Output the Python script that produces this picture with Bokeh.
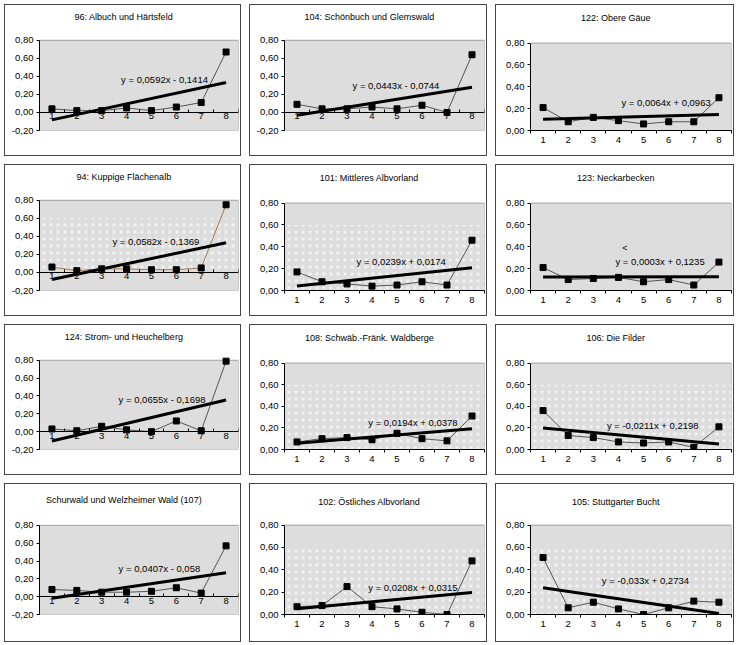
from bokeh.plotting import figure
from bokeh.models import FixedTicker, CustomJSTickFormatter, Range1d
from bokeh.layouts import column, row
from bokeh.core.properties import value
from bokeh.embed import file_html
from bokeh.resources import INLINE

# ---------------- data ----------------
x = [1, 2, 3, 4, 5, 6, 7, 8]

titles = [
    "96: Albuch und Härtsfeld",
    "104: Schönbuch und Glemswald",
    "122: Obere Gäue",
    "94: Kuppige Flächenalb",
    "101: Mittleres Albvorland",
    "123: Neckarbecken",
    "124: Strom- und Heuchelberg",
    "108: Schwäb.-Fränk. Waldberge",
    "106: Die Filder",
    "Schurwald und Welzheimer Wald (107)",
    "102: Östliches Albvorland",
    "105: Stuttgarter Bucht",
]

v96 = [0.04, 0.02, 0.02, 0.05, 0.02, 0.06, 0.11, 0.67]
v104 = [0.09, 0.04, 0.04, 0.06, 0.04, 0.08, 0.00, 0.64]
v122 = [0.21, 0.08, 0.12, 0.09, 0.06, 0.08, 0.08, 0.30]
v94 = [0.06, 0.02, 0.04, 0.04, 0.03, 0.03, 0.05, 0.75]
v101 = [0.17, 0.08, 0.06, 0.04, 0.05, 0.08, 0.05, 0.46]
v123 = [0.21, 0.10, 0.11, 0.12, 0.08, 0.10, 0.05, 0.26]
v124 = [0.03, 0.01, 0.06, 0.02, 0.00, 0.12, 0.01, 0.79]
v108 = [0.07, 0.10, 0.11, 0.09, 0.15, 0.10, 0.08, 0.31]
v106 = [0.36, 0.13, 0.11, 0.07, 0.06, 0.07, 0.02, 0.21]
v107 = [0.08, 0.07, 0.05, 0.05, 0.06, 0.10, 0.04, 0.57]
v102 = [0.07, 0.08, 0.25, 0.07, 0.05, 0.02, 0.00, 0.48]
v105 = [0.51, 0.06, 0.11, 0.05, 0.00, 0.06, 0.12, 0.11]

series = [v96, v104, v122, v94, v101, v123, v124, v108, v106, v107, v102, v105]

slopes = [0.0592, 0.0443, 0.0064, 0.0582, 0.0239, 0.0003,
          0.0655, 0.0194, -0.0211, 0.0407, 0.0208, -0.033]
intercepts = [-0.1414, -0.0744, 0.0963, -0.1369, 0.0174, 0.1235,
              -0.1698, 0.0378, 0.2198, -0.058, 0.0315, 0.2734]

y_min = [-0.2, -0.2, 0.0, -0.2, 0.0, 0.0, -0.2, 0.0, 0.0, -0.2, 0.0, 0.0]
y_max = 0.8

# ---------------- layout / style ----------------
eq_pos = [(3.78, 0.37), (3.22, 0.30), (4.12, 0.256), (3.43, 0.345),
          (3.38, 0.266), (3.88, 0.266), (3.68, 0.358), (3.85, 0.253),
          (3.54, 0.223), (3.68, 0.32), (3.85, 0.24), (3.34, 0.30)]
dotted = [False, False, False, True, True, False,
          False, True, True, False, True, True]
line_colors = ["#555555"] * 12
line_colors[3] = "#A07850"

FONT = "Liberation Sans"
COL_W = [237, 238, 239]          # outer widths incl. 1px border
ROW_H = [152, 152, 151, 159]     # outer heights incl. 1px border
ROW_TOP = [37, 37, 37, 40]       # canvas px between top and the 0,80 line
TITLE_Y = [12, 12, 12, 17]       # title centre, canvas px from top
AXIS_EXT = 17                    # estimated height of the bottom axis (px)


def fmt(v):
    s = ("%.4f" % v).rstrip("0")
    return s.replace(".", ",")


def eq_text(s, b):
    sign = "-" if b < 0 else "+"
    return "y = %sx %s %s" % (fmt(s), sign, fmt(abs(b)))


def panel(i, r, c):
    W = COL_W[c]
    H = ROW_H[r]
    cw, ch = W - 2, H - 2
    neg = y_min[i] < 0
    top = ROW_TOP[r] + (4 if (r == 3 and neg) else 0)
    if neg:
        bottom_min, bottom = 0, AXIS_EXT
    else:
        bottom_min = bottom = 27 if r < 3 else 29
    left, right = 34, 4
    frame_h = ch - bottom
    frame_w = cw - left - right
    span = y_max - y_min[i]
    y_top = y_max + top * span / (frame_h - top)
    px_y = (y_top - y_min[i]) / frame_h

    p = figure(width=W, height=H, x_range=Range1d(0.5, 8.5),
               y_range=Range1d(y_min[i], y_top),
               output_backend="svg", toolbar_location=None,
               min_border_left=left, min_border_right=right,
               min_border_top=0, min_border_bottom=bottom_min,
               background_fill_color="white", border_fill_color="white",
               outline_line_color=None,
               styles={"border": "1px solid #444444"})
    p.xgrid.visible = False
    p.ygrid.visible = False

    # plot area
    p.quad(left=0.5, right=8.5, bottom=y_min[i], top=y_max,
           fill_color="#DDDDDD", line_color="#A0A0A0", line_width=1)
    if dotted[i]:
        p.quad(left=0.5, right=8.5, bottom=0.0, top=0.6,
               fill_alpha=0, line_alpha=0,
               hatch_pattern="dot", hatch_color="white",
               hatch_scale=7, hatch_weight=1, hatch_alpha=0.6)

    # x axis (category style)
    xa = p.xaxis[0]
    xa.ticker = FixedTicker(ticks=x, minor_ticks=[k + 0.5 for k in range(0, 9)])
    xa.major_tick_out = 0
    xa.major_tick_in = 0
    xa.minor_tick_out = 0 if neg else 3
    xa.minor_tick_in = 3 if neg else 0
    xa.minor_tick_line_color = "black"
    xa.axis_line_color = "black"
    xa.axis_label_standoff = 0
    xa.major_label_text_font = FONT
    xa.major_label_text_font_size = "9.5px"
    xa.major_label_text_line_height = 1.0
    xa.major_label_text_color = "black"
    xa.major_label_standoff = 1 if neg else 3
    if neg:
        xa.fixed_location = 0

    # y axis
    ya = p.yaxis[0]
    yt = [-0.2, 0.0, 0.2, 0.4, 0.6, 0.8] if neg else [0.0, 0.2, 0.4, 0.6, 0.8]
    ya.ticker = FixedTicker(ticks=yt)
    ya.bounds = (y_min[i], y_max)
    ya.formatter = CustomJSTickFormatter(code="return tick.toFixed(2).replace('.', ',');")
    ya.minor_tick_line_color = None
    ya.major_tick_out = 3
    ya.major_tick_in = 0
    ya.axis_line_color = "black"
    ya.major_label_text_font = FONT
    ya.major_label_text_font_size = "9.5px"
    ya.major_label_text_color = "black"
    ya.major_label_standoff = 3

    ys = series[i]
    p.line(x, ys, line_color=line_colors[i], line_width=1)
    tx = [x[0], x[-1]]
    ty = [slopes[i] * v + intercepts[i] for v in tx]
    p.line(tx, ty, line_color="black", line_width=3)
    p.scatter(x, ys, marker="square", size=6, fill_color="black", line_color="black")

    ex, ey = eq_pos[i]
    p.text(x=[ex], y=[ey], text=[eq_text(slopes[i], intercepts[i])],
           text_font=value(FONT), text_font_size="9.5px",
           text_baseline="middle", text_align="left", text_color="black")
    if i == 5:
        p.text(x=[4.15], y=[0.39], text=["<"], text_font=value(FONT),
               text_font_size="9px", text_baseline="middle", text_color="black")

    # title, centred on the panel
    tx_title = 0.5 + (cw / 2 - left) * 8.0 / frame_w
    ty_title = y_top - TITLE_Y[r] * px_y
    p.text(x=[tx_title], y=[ty_title], text=[titles[i]], text_font=value(FONT),
           text_font_size="9px", text_align="center", text_baseline="middle",
           text_color="black")
    return p


rows = []
for r in range(4):
    figs = [panel(r * 3 + c, r, c) for c in range(3)]
    rows.append(row(*figs, spacing=8))
layout = column(*rows, spacing=8, styles={"margin-left": "4px", "margin-top": "4px"})

open("out.html", "w").write(file_html(layout, INLINE))
